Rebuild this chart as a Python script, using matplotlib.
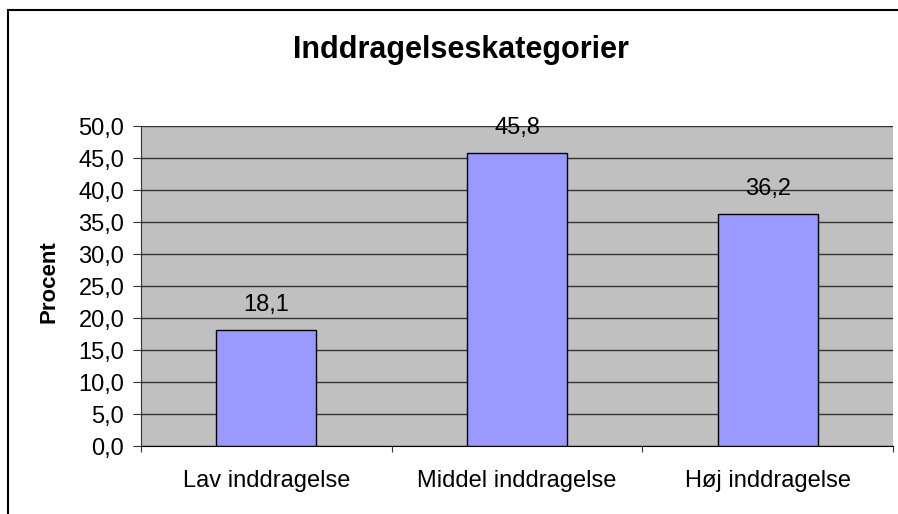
import matplotlib.pyplot as plt
from matplotlib.patches import Rectangle

categories = ["Lav inddragelse", "Middel inddragelse", "Høj inddragelse"]
values = [18.1, 45.8, 36.2]
yticks = [0, 5, 10, 15, 20, 25, 30, 35, 40, 45, 50]

plt.rcParams['font.family'] = ['Liberation Sans', 'DejaVu Sans']

fig = plt.figure(figsize=(8.98, 5.14), dpi=100)
# outer chart border (cropped at right/bottom)
fig.patches.append(Rectangle((7.5 / 898, -0.1), 1.2, 1.1 - 10.5 / 514, transform=fig.transFigure,
                             fill=False, edgecolor='black', linewidth=1.5))

ax = fig.add_axes([141 / 898, 1 - 446 / 514, 752 / 898, 320 / 514])
ax.set_facecolor('#C0C0C0')
x = range(len(categories))
ax.bar(x, values, width=0.4, color='#9999FF', edgecolor='black', linewidth=1, zorder=3)
for i, v in zip(x, values):
    ax.text(i, v + 3.0, f"{v:.1f}".replace('.', ','), ha='center', va='baseline', fontsize=17, zorder=4)

ax.set_xlim(-0.5, 2.5)
ax.set_ylim(0, 50)
ax.set_yticks(yticks)
ax.set_yticklabels([f"{t:.1f}".replace('.', ',') for t in yticks], fontsize=17)
ax.yaxis.grid(True, color='#333333', linewidth=1)
ax.set_axisbelow(True)
ax.set_xticks([-0.5, 0.5, 1.5, 2.5])
ax.set_xticklabels([])
ax.set_xticks(list(x), minor=True)
ax.set_xticklabels(categories, minor=True, fontsize=17)
ax.tick_params(axis='x', which='minor', length=0, pad=17)
ax.tick_params(axis='x', which='major', length=4.5, color='#333333')
ax.tick_params(axis='y', length=6, color='#333333', pad=6)
for s in ['top', 'right']:
    ax.spines[s].set_visible(False)
ax.spines['left'].set_color('#333333')
ax.spines['bottom'].set_color('black')
ax.set_ylabel("Procent", fontsize=16, fontweight='bold')
ax.yaxis.set_label_coords((59 - 141) / 752, (446 - 282) / 320)
fig.text(461 / 898, 1 - 50 / 514, "Inddragelseskategorier", ha='center', va='center',
         fontsize=22, fontweight='bold')

fig.savefig("out.png", dpi=100)
